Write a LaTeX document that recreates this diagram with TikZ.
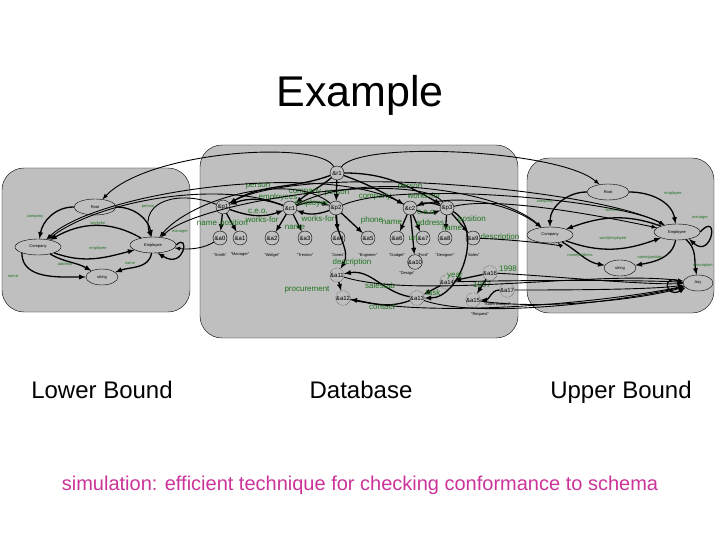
\documentclass[tikz,border=0pt]{standalone}
\usepackage{fontspec}
\setmainfont{Liberation Sans}
\usetikzlibrary{shapes.geometric}
\definecolor{panelgray}{rgb}{0.75,0.75,0.75}
\definecolor{lblgreen}{rgb}{0.12,0.45,0.12}
\definecolor{pinktext}{rgb}{0.8,0.2,0.6}

\tikzset{
  panel/.style={draw,fill=panelgray,rounded corners=22pt},
  sch/.style={ellipse,draw,fill=panelgray,minimum width=42pt,minimum height=16pt,inner sep=0pt,font=\fontsize{4}{4}\selectfont},
  obj/.style={circle,draw,minimum size=14pt,inner sep=0pt,font=\fontsize{6}{6}\selectfont},
  dobj/.style={obj,densely dotted},
  lbl/.style={text=lblgreen,font=\fontsize{8}{8}\selectfont,inner sep=0pt},
  slbl/.style={text=lblgreen,font=\fontsize{4}{4}\selectfont,inner sep=0pt},
  val/.style={font=\fontsize{4}{4}\selectfont,inner sep=0pt},
  caption/.style={anchor=base,font=\fontsize{24}{24}\selectfont},
  link/.style={->,>=latex,line width=1.3pt},
  simlink/.style={->,>=latex,line width=0.9pt},
}

\begin{document}
\begin{tikzpicture}[x=1pt,y=-1pt]
    \useasboundingbox (0,0) rectangle (720,540);
    % title and captions
    \node[font=\fontsize{43}{43}\selectfont] (title) at (360,95) {Example};
    \node[caption] (capl) at (102,398) {Lower Bound};
    \node[caption] (capm) at (361,398) {Database};
    \node[caption] (capr) at (621,398) {Upper Bound};
    \node[anchor=base,text=pinktext,font=\fontsize{20}{20}\selectfont] (note) at (360,490)
        {simulation: efficient technique for checking conformance to schema};

    % panels
    \draw[panel] (2,168) rectangle (190,312);
    \draw[panel] (200,145) rectangle (518,338);
    \draw[panel] (527,158) rectangle (714,313);

    % lower bound schema
    \node[sch] (lroot) at (95,207) {Root};
    \node[sch,minimum width=46pt] (lcomp) at (38,247) {Company};
    \node[sch,minimum width=46pt] (lemp) at (153,245) {Employee};
    \node[sch,minimum width=32pt] (lstr) at (102,277) {string};

    \draw[link] (lroot) to[out=180,in=80] (lcomp);
    \draw[link] (lroot) to[out=0,in=100] (lemp);
    \draw[link] (lemp) to[out=150,in=30] (lcomp);
    \draw[link] (lcomp) to[out=-20,in=195] (lemp);
    \draw[link] (lcomp) to[out=-30,in=150] (lstr);
    \draw[link] (lcomp.200) to[out=-90,in=180] (lstr.west);
    \draw[link] (lemp) to[out=-100,in=20] (lstr);
    \draw[link] (lemp.east) .. controls (190,232) and (185,270) .. (lemp.-60);

    \node[slbl] (lt1) at (35,217) {company};
    \node[slbl] (lt2) at (148,207) {person};
    \node[slbl] (lt3) at (98,223) {worksfor};
    \node[slbl] (lt4) at (98,248) {employee};
    \node[slbl] (lt5) at (65,264) {address};
    \node[slbl] (lt6) at (13,276) {name};
    \node[slbl] (lt7) at (130,263) {name};
    \node[slbl] (lt8) at (180,232) {manager};

    % database
    \node[obj] (r1) at (337,173) {\&r1};
    \node[obj] (p1) at (223,207) {\&p1};
    \node[obj] (c1) at (290,208) {\&c1};
    \node[obj] (p2) at (336,208) {\&p2};
    \node[obj] (c2) at (410,208) {\&c2};
    \node[obj] (p3) at (447,208) {\&p3};
    \foreach \i/\x/\s in {0/220/Smith,1/240/Manager,2/272/Widget,3/305/Trenton,
                          4/338/Jones,5/368/Engineer,6/397/Gadget,7/423/Ford,
                          8/445/Designer,9/473/Sales} {
        \node[obj] (a\i) at (\x,238) {\&a\i};
        \node[val] (s\i) at (\x,255) {"\s"};
    }
    \node[obj] (a10) at (415,262) {\&a10};
    \node[val] (s10) at (407,273) {"Design"};

    \node[dobj] (d1) at (337,275) {\&a11};
    \node[dobj] (d2) at (343,298) {\&a12};
    \node[dobj] (d3) at (417,298) {\&a13};
    \node[dobj] (d4) at (447,282) {\&a14};
    \node[dobj] (d5) at (473,300) {\&a15};
    \node[dobj] (d6) at (490,273) {\&a16};
    \node[dobj] (d7) at (507,290) {\&a17};
    \node[val] (s11) at (497,304) {"Sales Budget"};
    \node[val] (s12) at (480,315) {"Request"};

    \draw[link] (r1) to[out=200,in=30] (p1);
    \draw[link] (r1) to[out=220,in=40] (c1);
    \draw[link] (r1) -- (p2);
    \draw[link] (r1) to[out=-20,in=150] (c2);
    \draw[link] (r1) to[out=0,in=150] (p3);
    \draw[link] (c1) to[out=160,in=20] (p1);
    \draw[link] (p1) to[out=-20,in=200] (c1);
    \draw[link] (c1) to[out=20,in=160] (p2);
    \draw[link] (p2) to[out=200,in=-20] (c1);
    \draw[link] (p1) -- (a0);
    \draw[link] (p1) -- (a1);
    \draw[link] (c1) -- (a2);
    \draw[link] (c1) -- (a3);
    \draw[link] (p2) -- (a4);
    \draw[link] (p2) -- (a5);
    \draw[link] (c2) -- (a6);
    \draw[link] (c2) -- (a7);
    \draw[link] (c2) -- (a10);
    \draw[link] (p3) to[out=160,in=20] (c2);
    \draw[link] (c2) to[out=-20,in=200] (p3);
    \draw[link] (p3) -- (a8);
    \draw[link] (p3) -- (a9);
    \draw[link] (p2) to[out=-90,in=60] (d1);
    \draw[link] (d1) -- (d2);
    \draw[link] (p3) to[out=-30,in=0] (d3);
    \draw[link] (d3) to[out=170,in=10] (d1);
    \draw[link] (d3) to[out=200,in=-10] (d2);
    \draw[link] (d6) -- (d4);
    \draw[link] (d4) -- (d3);
    \draw[link] (d6) -- (d5);
    \draw[link] (d7) to[out=180,in=0] (d5);

    \node[lbl] (t1) at (258,186) {person};
    \node[lbl] (t2) at (305,192) {company};
    \node[lbl] (t3) at (337,193) {person};
    \node[lbl] (t4) at (375,197) {company};
    \node[lbl] (t5) at (410,187) {person};
    \node[lbl] (t6) at (278,197) {employees};
    \node[lbl] (t7) at (312,203) {employee};
    \node[lbl] (t8) at (258,211) {c.e.o.};
    \node[lbl] (t9) at (262,220) {works-for};
    \node[lbl] (t10) at (318,219) {works-for};
    \node[lbl] (t11) at (295,227) {name};
    \node[lbl] (t12) at (207,223) {name};
    \node[lbl] (t13) at (234,223) {position};
    \node[lbl] (t14) at (372,220) {phone};
    \node[lbl] (t15) at (392,222) {name};
    \node[lbl] (t16) at (430,223) {address};
    \node[lbl] (t17) at (413,238) {url};
    \node[lbl] (t18) at (424,196) {works-for};
    \node[lbl] (t19) at (427,212) {c.e.o.};
    \node[lbl] (t20) at (452,228) {name};
    \node[lbl] (t21) at (472,219) {position};
    \node[lbl] (t22) at (500,237) {description};
    \node[lbl] (t23) at (352,262) {description};
    \node[lbl] (t24) at (307,290) {procurement};
    \node[lbl] (t25) at (380,286) {salestab};
    \node[lbl] (t26) at (382,307) {contact};
    \node[lbl] (t27) at (433,293) {task};
    \node[lbl] (t28) at (455,276) {year};
    \node[lbl] (t29) at (482,285) {1997};
    \node[lbl] (t30) at (508,269) {1998};

    % upper bound schema
    \node[sch] (rroot) at (608,192) {Root};
    \node[sch,minimum width=46pt] (rcomp) at (550,235) {Company};
    \node[sch,minimum width=46pt] (remp) at (677,232) {Employee};
    \node[sch,minimum width=32pt] (rstr) at (620,268) {string};
    \node[sch,minimum width=30pt] (rany) at (698,283) {Any};

    \draw[link] (rroot) to[out=180,in=90] (rcomp);
    \draw[link] (rroot) to[out=0,in=100] (remp);
    \draw[link] (remp) to[out=160,in=20] (rcomp);
    \draw[link] (rcomp) to[out=-20,in=200] (remp);
    \draw[link] (rcomp) to[out=-30,in=170] (rstr);
    \draw[link] (remp) to[out=-100,in=10] (rstr);
    \draw[link] (remp.east) .. controls (720,210) and (712,260) .. (remp.-30);
    \draw[link] (remp) to[out=-40,in=100] (rany);
    \draw[link] (rany.west) .. controls (660,270) and (665,300) .. (rany.200);

    \node[slbl] (rt1) at (545,202) {company};
    \node[slbl] (rt2) at (673,193) {employee};
    \node[slbl] (rt3) at (613,210) {worksfor};
    \node[slbl] (rt4) at (700,218) {manager};
    \node[slbl] (rt5) at (613,238) {work|employee};
    \node[slbl] (rt6) at (580,255) {name|address};
    \node[slbl] (rt7) at (650,257) {name|position};
    \node[slbl] (rt8) at (703,265) {description};

    % simulation to lower bound
    \draw[simlink] (r1) .. controls (320,140) and (150,150) .. (lroot);
    \draw[simlink] (p1) .. controls (180,190) and (140,200) .. (lemp);
    \draw[simlink] (c1) .. controls (220,180) and (100,200) .. (lcomp);
    \draw[simlink] (c2) .. controls (330,160) and (100,190) .. (lcomp);
    \draw[simlink] (p2) .. controls (290,170) and (190,200) .. (lemp);
    \draw[simlink] (p3) .. controls (420,170) and (200,200) .. (lemp);
    \draw[simlink] (a0) .. controls (205,248) and (190,250) .. (lemp);

    % simulation to upper bound
    \draw[simlink] (r1) .. controls (360,140) and (560,150) .. (rroot);
    \draw[simlink] (c1) .. controls (360,170) and (500,190) .. (rcomp);
    \draw[simlink] (c2) .. controls (470,190) and (520,210) .. (rcomp);
    \draw[simlink] (p1) .. controls (300,160) and (600,190) .. (remp);
    \draw[simlink] (p2) .. controls (400,180) and (620,200) .. (remp);
    \draw[simlink] (p3) .. controls (500,195) and (620,220) .. (remp);
    \draw[simlink] (a9) .. controls (520,240) and (560,245) .. (rcomp);
    \draw[simlink] (d1) .. controls (420,300) and (600,270) .. (rany);
    \draw[simlink] (d2) .. controls (440,320) and (620,300) .. (rany);
    \draw[simlink] (d3) .. controls (480,320) and (630,300) .. (rany);
    \draw[simlink] (d4) .. controls (520,280) and (640,280) .. (rany);
    \draw[simlink] (d5) .. controls (540,310) and (640,300) .. (rany);
    \draw[simlink] (d6) .. controls (540,275) and (640,285) .. (rany);
    \draw[simlink] (d7) .. controls (550,290) and (650,290) .. (rany);
\end{tikzpicture}
\end{document}
